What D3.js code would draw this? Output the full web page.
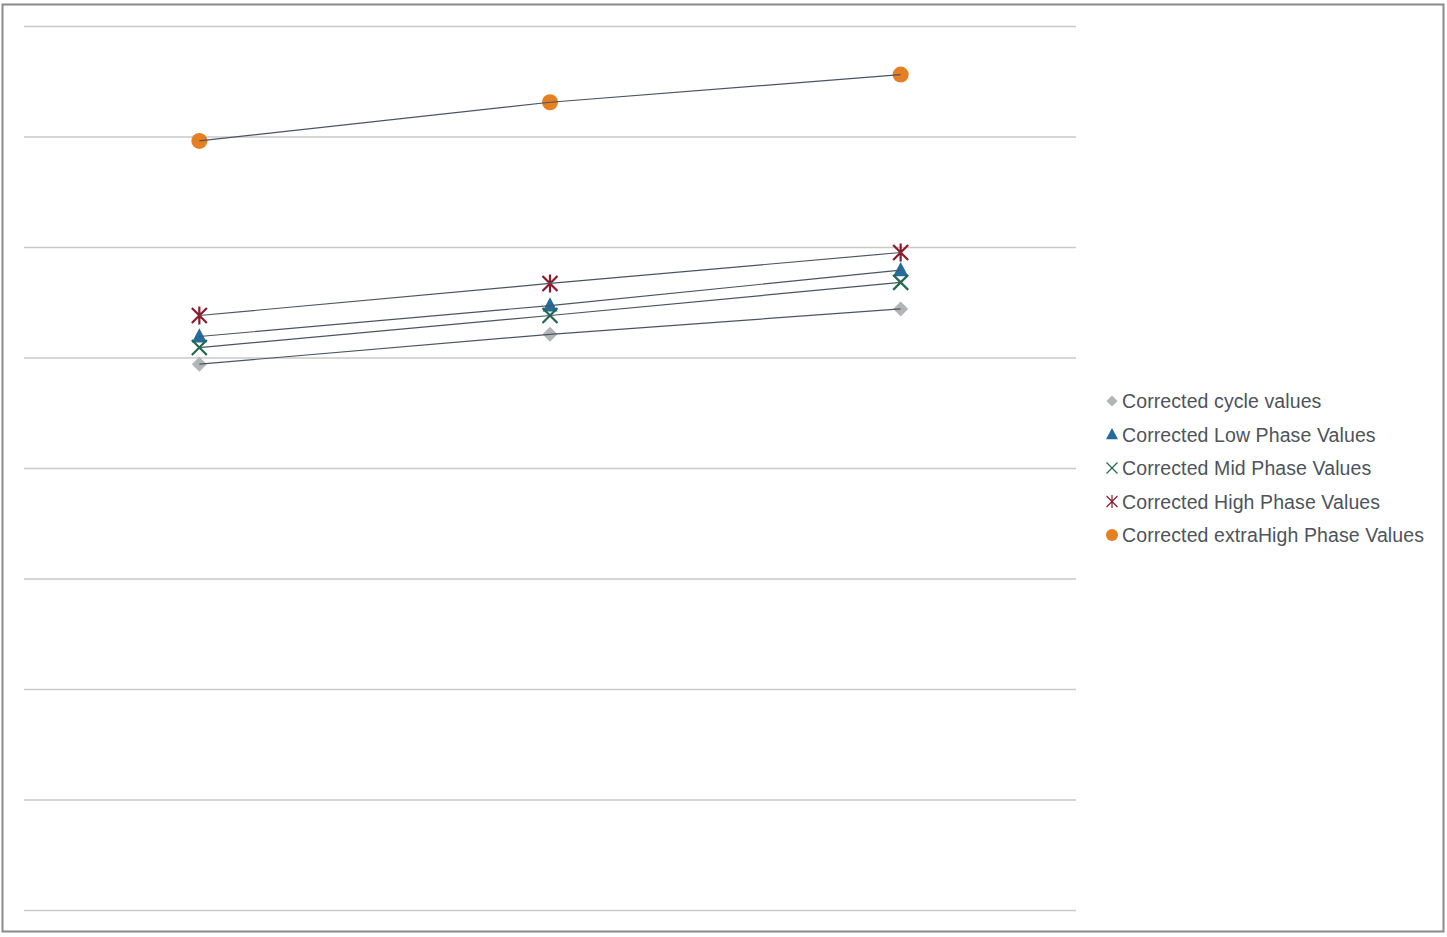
<!DOCTYPE html>
<html>
<head>
<meta charset="utf-8">
<script src="https://cdn.jsdelivr.net/npm/d3@7"></script>
<style>
  html, body { margin: 0; padding: 0; background: #fff; }
  svg { display: block; }
</style>
</head>
<body>
<svg id="chart" width="1447" height="937"></svg>
<script>
// categories (no labels shown on the chart)
const categories = ["1", "2", "3"];

// series values (gridline = 10 units)
const cycleValues = [49.4, 52.1, 54.4];
const lowValues = [51.9, 54.7, 57.9];
const midValues = [50.9, 53.8, 56.8];
const highValues = [53.8, 56.7, 59.5];
const extraHighValues = [69.6, 73.1, 75.6];

const seriesNames = [
    "Corrected cycle values",
    "Corrected Low Phase Values",
    "Corrected Mid Phase Values",
    "Corrected High Phase Values",
    "Corrected extraHigh Phase Values"
];

const yTicks = [0, 10, 20, 30, 40, 50, 60, 70, 80];

const series = [
    { name: seriesNames[0], values: cycleValues, shape: "diamond", color: "#b1b5b5" },
    { name: seriesNames[1], values: lowValues, shape: "triangle", color: "#236c9c" },
    { name: seriesNames[2], values: midValues, shape: "x", color: "#23694f" },
    { name: seriesNames[3], values: highValues, shape: "star", color: "#8a1c2c" },
    { name: seriesNames[4], values: extraHighValues, shape: "circle", color: "#e67e22" }
];

const svg = d3.select("#chart");

// outer frame
svg.append("rect")
    .attr("x", 2.5).attr("y", 4.5)
    .attr("width", 1441).attr("height", 927)
    .attr("fill", "#fff")
    .attr("stroke", "#8a8a8a")
    .attr("stroke-width", 2);

const plot = { left: 24, right: 1076, top: 26, bottom: 910 };

const x = d3.scaleBand()
    .domain(categories)
    .range([plot.left, plot.right]);

const y = d3.scaleLinear()
    .domain([0, 80])
    .range([plot.bottom, plot.top]);

// gridlines via axis
const grid = svg.append("g")
    .attr("transform", `translate(${plot.left},0)`)
    .call(d3.axisLeft(y)
        .tickValues(yTicks)
        .tickSize(-(plot.right - plot.left))
        .tickFormat(""));
grid.select(".domain").remove();
grid.selectAll(".tick line")
    .attr("stroke", "#c9c9c9")
    .attr("stroke-width", 1.3);

// draws one marker shape at 0,0
function drawMarker(g, shape, color, s) {
    if (shape === "diamond") {
        g.append("path")
            .attr("d", `M0,${-s}L${s},0L0,${s}L${-s},0Z`)
            .attr("fill", color);
    } else if (shape === "triangle") {
        g.append("path")
            .attr("d", `M0,${-s * 1.1}L${s},${s * 0.8}L${-s},${s * 0.8}Z`)
            .attr("fill", color);
    } else if (shape === "x") {
        g.append("path")
            .attr("d", `M${-s},${-s}L${s},${s}M${s},${-s}L${-s},${s}`)
            .attr("stroke", color).attr("stroke-width", s > 6 ? 2.2 : 1.2).attr("fill", "none");
    } else if (shape === "star") {
        g.append("path")
            .attr("d", `M${-s},${-s}L${s},${s}M${s},${-s}L${-s},${s}M0,${-s * 1.2}L0,${s * 1.2}`)
            .attr("stroke", color).attr("stroke-width", s > 6 ? 2.2 : 1.2).attr("fill", "none");
    } else if (shape === "circle") {
        g.append("circle").attr("r", s).attr("fill", color);
    }
}

const cx = c => x(c) + x.bandwidth() / 2;

// markers
series.forEach(s => {
    s.values.forEach((v, i) => {
        const g = svg.append("g")
            .attr("transform", `translate(${cx(categories[i])},${y(v)})`);
        const size = s.shape === "circle" ? 8 : 7.5;
        drawMarker(g, s.shape, s.color, size);
    });
});

// connecting lines drawn over the markers
const line = d3.line()
    .x((d, i) => cx(categories[i]))
    .y(d => y(d));

series.forEach(s => {
    svg.append("path")
        .datum(s.values)
        .attr("d", line)
        .attr("fill", "none")
        .attr("stroke", "#4a5563")
        .attr("stroke-width", 1.2);
});

// legend
const legend = svg.append("g").attr("transform", "translate(1112,401)");
series.forEach((s, i) => {
    const row = legend.append("g").attr("transform", `translate(0,${i * 33.5})`);
    const ms = (s.shape === "circle" || s.shape === "triangle") ? 6 : 5.5;
    drawMarker(row, s.shape, s.color, ms);
    row.append("text")
        .attr("x", 10)
        .attr("y", 0)
        .attr("dy", "0.36em")
        .attr("font-family", "Liberation Sans, Arial, sans-serif")
        .attr("font-size", 19.5)
        .attr("letter-spacing", 0.1)
        .attr("fill", "#4d545b")
        .text(s.name);
});
</script>
</body>
</html>
